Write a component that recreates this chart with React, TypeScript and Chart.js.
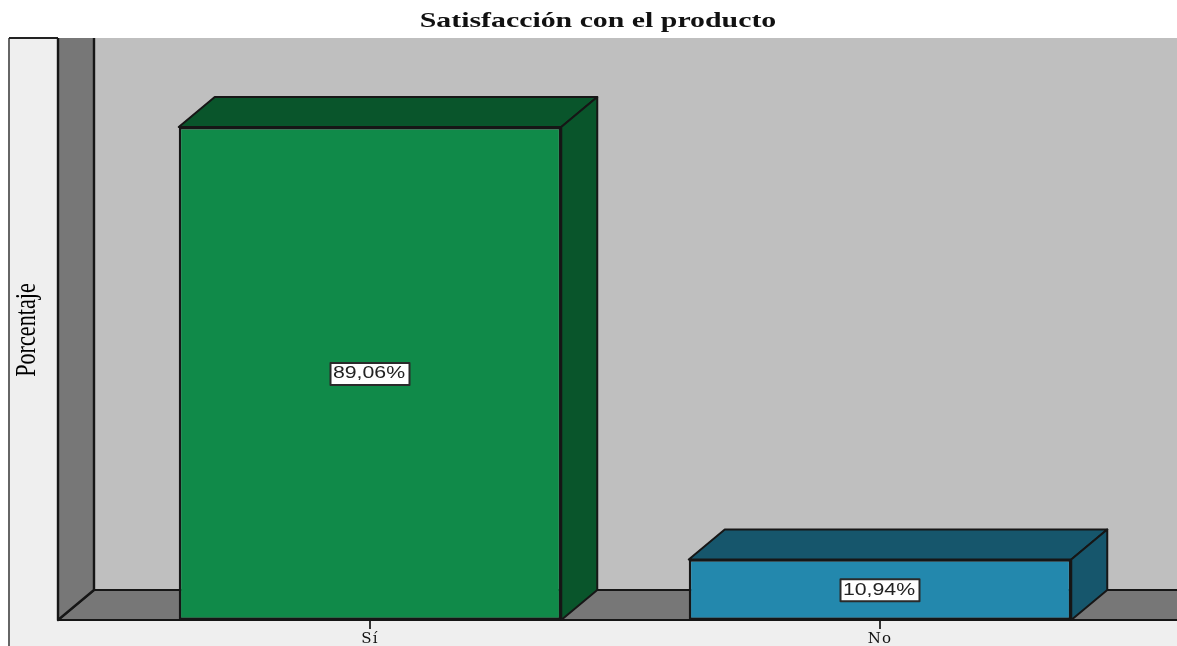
import React, { useEffect, useRef } from "react";
import { Chart, registerables } from "chart.js";

Chart.register(...registerables);

const categories = ["Sí", "No"];
const percentages = [89.06, 10.94];
const valueLabels = ["89,06%", "10,94%"];
const frontColors = ["#108a49", "#2388ad"];
const shadeColors = ["#09552b", "#16566c"];
const chartTitle = "Satisfacción con el producto";
const axisTitle = "Porcentaje";

const DEPTH_X = 36;
const DEPTH_Y = 30;
const LINE = "#161616";

function poly(ctx: CanvasRenderingContext2D, pts: number[][], fill: string, lw = 2) {
  ctx.beginPath();
  pts.forEach(([x, y], i) => (i ? ctx.lineTo(x, y) : ctx.moveTo(x, y)));
  ctx.closePath();
  ctx.fillStyle = fill;
  ctx.fill();
  ctx.lineWidth = lw;
  ctx.strokeStyle = LINE;
  ctx.lineJoin = "round";
  ctx.stroke();
}

// The reference's text is stretched: wrap the library's own text drawing in a transform.
function stretchText(chart: any) {
  if (chart.$stretched) return;
  chart.$stretched = true;
  const { ctx } = chart;
  const block = chart.titleBlock;
  const drawBlock = block.draw.bind(block);
  block.draw = () => {
    const cx = block.left + block.width / 2;
    ctx.save();
    ctx.translate(cx, 0);
    ctx.scale(1.42, 1);
    ctx.translate(-cx, 0);
    drawBlock();
    ctx.restore();
  };
  const y = chart.scales.y;
  const drawTitle = y.drawTitle.bind(y);
  y.drawTitle = () => {
    const cy = (y.top + y.bottom) / 2;
    ctx.save();
    ctx.translate(-7, cy + 1);
    ctx.scale(1, 0.74);
    ctx.translate(0, -cy);
    drawTitle();
    ctx.lineWidth = 0.5;
    ctx.restore();
  };
  const x = chart.scales.x;
  const drawLabels = x.drawLabels.bind(x);
  x.drawLabels = (area: any) => {
    ctx.save();
    (ctx as any).letterSpacing = "1.2px";
    drawLabels(area);
    ctx.restore();
  };
}

const panelPlugin = {
  id: "panel",
  beforeDraw(chart: any) {
    stretchText(chart);
    const { ctx, chartArea, width, height } = chart;
    ctx.save();
    ctx.fillStyle = "#ffffff";
    ctx.fillRect(0, 0, width, height);
    ctx.fillStyle = "#efefef";
    ctx.fillRect(9, chartArea.top, width - 9, height - chartArea.top);
    ctx.lineWidth = 2;
    ctx.strokeStyle = "#666";
    ctx.beginPath();
    ctx.moveTo(9, height);
    ctx.lineTo(9, chartArea.top);
    ctx.stroke();
    ctx.strokeStyle = "#222";
    ctx.beginPath();
    ctx.moveTo(9, chartArea.top);
    ctx.lineTo(58, chartArea.top);
    ctx.stroke();
    ctx.restore();
  },
  beforeDatasetsDraw(chart: any) {
    const { ctx, chartArea, width, height } = chart;
    const { top, bottom } = chartArea;
    const wallL = 58;
    const wallB = wallL + DEPTH_X;
    const floorB = bottom - DEPTH_Y;
    ctx.save();
    ctx.fillStyle = "#bfbfbf";
    ctx.fillRect(wallB, top, width - wallB, floorB - top);
    poly(ctx, [[wallL, bottom], [wallB, floorB], [width + 5, floorB], [width + 5, bottom]], "#777777");
    ctx.beginPath();
    ctx.rect(0, top, width, height - top);
    ctx.clip();
    poly(ctx, [[wallL, top - 5], [wallB, top - 5], [wallB, floorB], [wallL, bottom]], "#777777", 2.4);
    ctx.restore();
  },
  afterDatasetsDraw(chart: any) {
    const { ctx } = chart;
    const meta = chart.getDatasetMeta(0);
    ctx.save();
    meta.data.forEach((bar: any, i: number) => {
      const { x, y, base, width: w } = bar.getProps(["x", "y", "base", "width"], true);
      const l = x - w / 2;
      const r = x + w / 2;
      poly(ctx, [[l, y], [l + DEPTH_X, y - DEPTH_Y], [r + DEPTH_X, y - DEPTH_Y], [r, y]], shadeColors[i]);
      poly(ctx, [[r, y], [r + DEPTH_X, y - DEPTH_Y], [r + DEPTH_X, base - DEPTH_Y], [r, base]], shadeColors[i]);

      const cy = (y + base) / 2 + 0.5;
      ctx.fillStyle = "#ffffff";
      ctx.strokeStyle = "#2a2a2a";
      ctx.lineWidth = 2;
      ctx.fillRect(x - 39.5, cy - 11, 79, 22);
      ctx.strokeRect(x - 39.5, cy - 11, 79, 22);
      ctx.save();
      ctx.translate(x - 1, cy);
      ctx.scale(1.33, 1);
      ctx.font = '16px "Liberation Sans"';
      ctx.fillStyle = "#222";
      ctx.textAlign = "center";
      ctx.textBaseline = "middle";
      ctx.fillText(valueLabels[i], 0, 0);
      ctx.restore();
    });
    ctx.restore();
  },
};

export default function App() {
  const ref = useRef<HTMLCanvasElement | null>(null);
  useEffect(() => {
    const chart = new Chart(ref.current as HTMLCanvasElement, {
      type: "bar",
      data: {
        labels: categories,
        datasets: [
          {
            data: percentages,
            backgroundColor: frontColors,
            borderColor: LINE,
            borderWidth: 2.4,
            borderSkipped: false,
            barPercentage: 0.75,
            categoryPercentage: 1,
          },
        ],
      },
      options: {
        responsive: false,
        animation: false,
        layout: { padding: { left: 19, right: 0, top: 0, bottom: 0 } },
        plugins: {
          legend: { display: false },
          tooltip: { enabled: false },
          title: {
            display: true,
            text: chartTitle,
            color: "#111",
            font: { family: '"Liberation Serif"', size: 21, weight: "bold", lineHeight: 1.2 },
            padding: { top: 9.2, bottom: 3.6 },
          },
        },
        scales: {
          x: {
            type: "category",
            border: { display: false },
            grid: { drawOnChartArea: false, drawTicks: true, tickLength: 9, offset: false, color: "#333", lineWidth: 2 },
            ticks: { color: "#111", padding: 1, font: { family: '"DejaVu Serif"', size: 15 }, maxRotation: 0 },
            afterFit: (s: any) => { s.height = 26; },
          },
          y: {
            type: "linear",
            min: 0,
            max: 105.15,
            position: "left",
            border: { display: false },
            grid: { display: false },
            ticks: { display: false },
            title: {
              display: true,
              text: axisTitle,
              color: "#000",
              padding: 0,
              font: { family: '"Liberation Serif"', size: 30, weight: "normal", lineHeight: 1 },
            },
            afterFit: (s: any) => { s.width = 96; },
          },
          y2: {
            type: "linear",
            position: "right",
            display: true,
            border: { display: false },
            grid: { display: false },
            ticks: { display: false },
            afterFit: (s: any) => { s.width = 42; },
          },
        },
      },
      plugins: [panelPlugin],
    } as any);
    return () => chart.destroy();
  }, []);
  return (
    <div style={{ position: "fixed", left: 0, top: 0 }}>
      <canvas ref={ref} width={1177} height={646} style={{ display: "block", filter: "blur(0.4px)" }} />
    </div>
  );
}
